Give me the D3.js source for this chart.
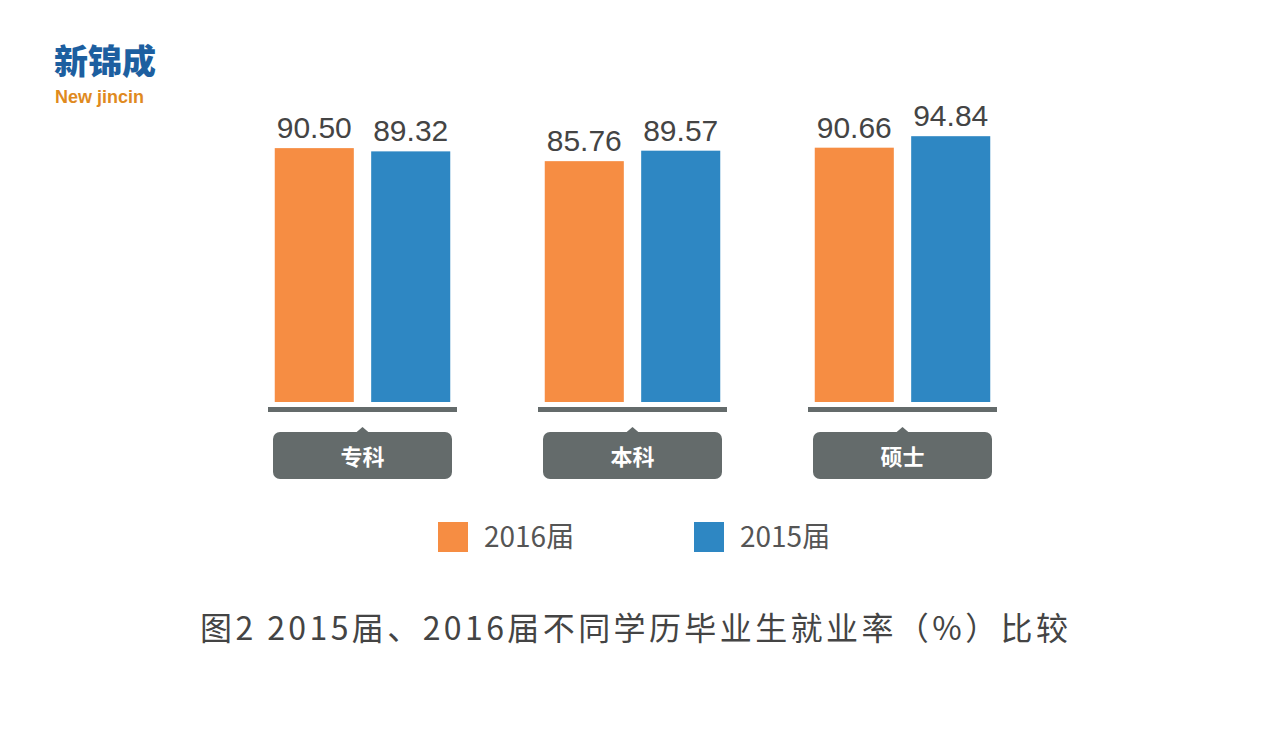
<!DOCTYPE html>
<html>
<head>
<meta charset="utf-8">
<script src="https://cdn.jsdelivr.net/npm/d3@7"></script>
<style>
  body { margin: 0; background: #fff; }
  text { font-family: "Noto Sans CJK SC", "Noto Sans", sans-serif; }
</style>
</head>
<body>
<svg></svg>
<script>
const width = 1268;
const height = 741;

const categories = ['专科', '本科', '硕士'];
const series = ['2016届', '2015届'];
const values2016 = [90.50, 85.76, 90.66];
const values2015 = [89.32, 89.57, 94.84];
const colors = ['#f68d43', '#2e87c3'];

const baseline = 402;

let svg = d3.select('svg').attr('width', width).attr('height', height);

let xScale = d3.scaleBand()
    .domain(categories)
    .range([268, 997])
    .paddingInner(0.3)
    .paddingOuter(0);

let subScale = d3.scaleBand()
    .domain(series)
    .range([0, xScale.bandwidth()])
    .paddingInner(0.18)
    .paddingOuter(0.07);

// value axis does not start at zero in the original
let yScale = d3.scaleLinear()
    .domain([80, 100])
    .range([177, 122]);

// logo
svg.append('text').attr('x', 54).attr('y', 74)
    .attr('font-size', 34).attr('font-weight', 900).attr('fill', '#1d5fa0')
    .text('新锦成');
svg.append('text').attr('x', 55).attr('y', 103)
    .style('font-family', '"Liberation Sans", sans-serif').attr('font-size', 18)
    .attr('font-weight', 'bold').attr('fill', '#e08a1e')
    .text('New jincin');

categories.forEach((c, i) => {
    let g = svg.append('g').attr('transform', 'translate(' + xScale(c) + ',0)');
    let vals = [values2016[i], values2015[i]];
    vals.forEach((v, j) => {
        g.append('rect')
            .attr('x', subScale(series[j]))
            .attr('y', yScale(v))
            .attr('width', subScale.bandwidth())
            .attr('height', baseline - yScale(v))
            .attr('fill', colors[j]);
        g.append('text')
            .attr('x', subScale(series[j]) + subScale.bandwidth() / 2)
            .attr('y', yScale(v) - 10)
            .attr('text-anchor', 'middle')
            .style('font-family', '"Liberation Sans", sans-serif')
            .attr('font-size', 30)
            .attr('fill', '#444')
            .text(v.toFixed(2));
    });
    let bw = xScale.bandwidth();
    g.append('rect').attr('x', 0).attr('y', 407).attr('width', bw).attr('height', 5).attr('fill', '#646b6b');
    g.append('rect').attr('x', 5).attr('y', 432).attr('width', bw - 10).attr('height', 47)
        .attr('rx', 7).attr('fill', '#646b6b');
    g.append('path')
        .attr('d', `M${bw / 2 - 7},433 L${bw / 2},427 L${bw / 2 + 7},433 Z`)
        .attr('fill', '#646b6b');
    g.append('text').attr('x', bw / 2).attr('y', 465)
        .attr('text-anchor', 'middle').attr('font-size', 22).attr('font-weight', 'bold')
        .attr('fill', '#fff').text(c);
});

// legend
const legendX = [438, 694];
series.forEach((s, j) => {
    svg.append('rect').attr('x', legendX[j]).attr('y', 522).attr('width', 30).attr('height', 30).attr('fill', colors[j]);
    svg.append('text').attr('x', legendX[j] + 46).attr('y', 547)
        .attr('font-size', 28).attr('fill', '#555').text(s);
});

svg.append('text').attr('x', 200).attr('y', 640)
    .attr('font-size', 32).attr('fill', '#444')
    .attr('textLength', 868).attr('lengthAdjust', 'spacing')
    .text('图2  2015届、2016届不同学历毕业生就业率（%）比较');
</script>
</body>
</html>
